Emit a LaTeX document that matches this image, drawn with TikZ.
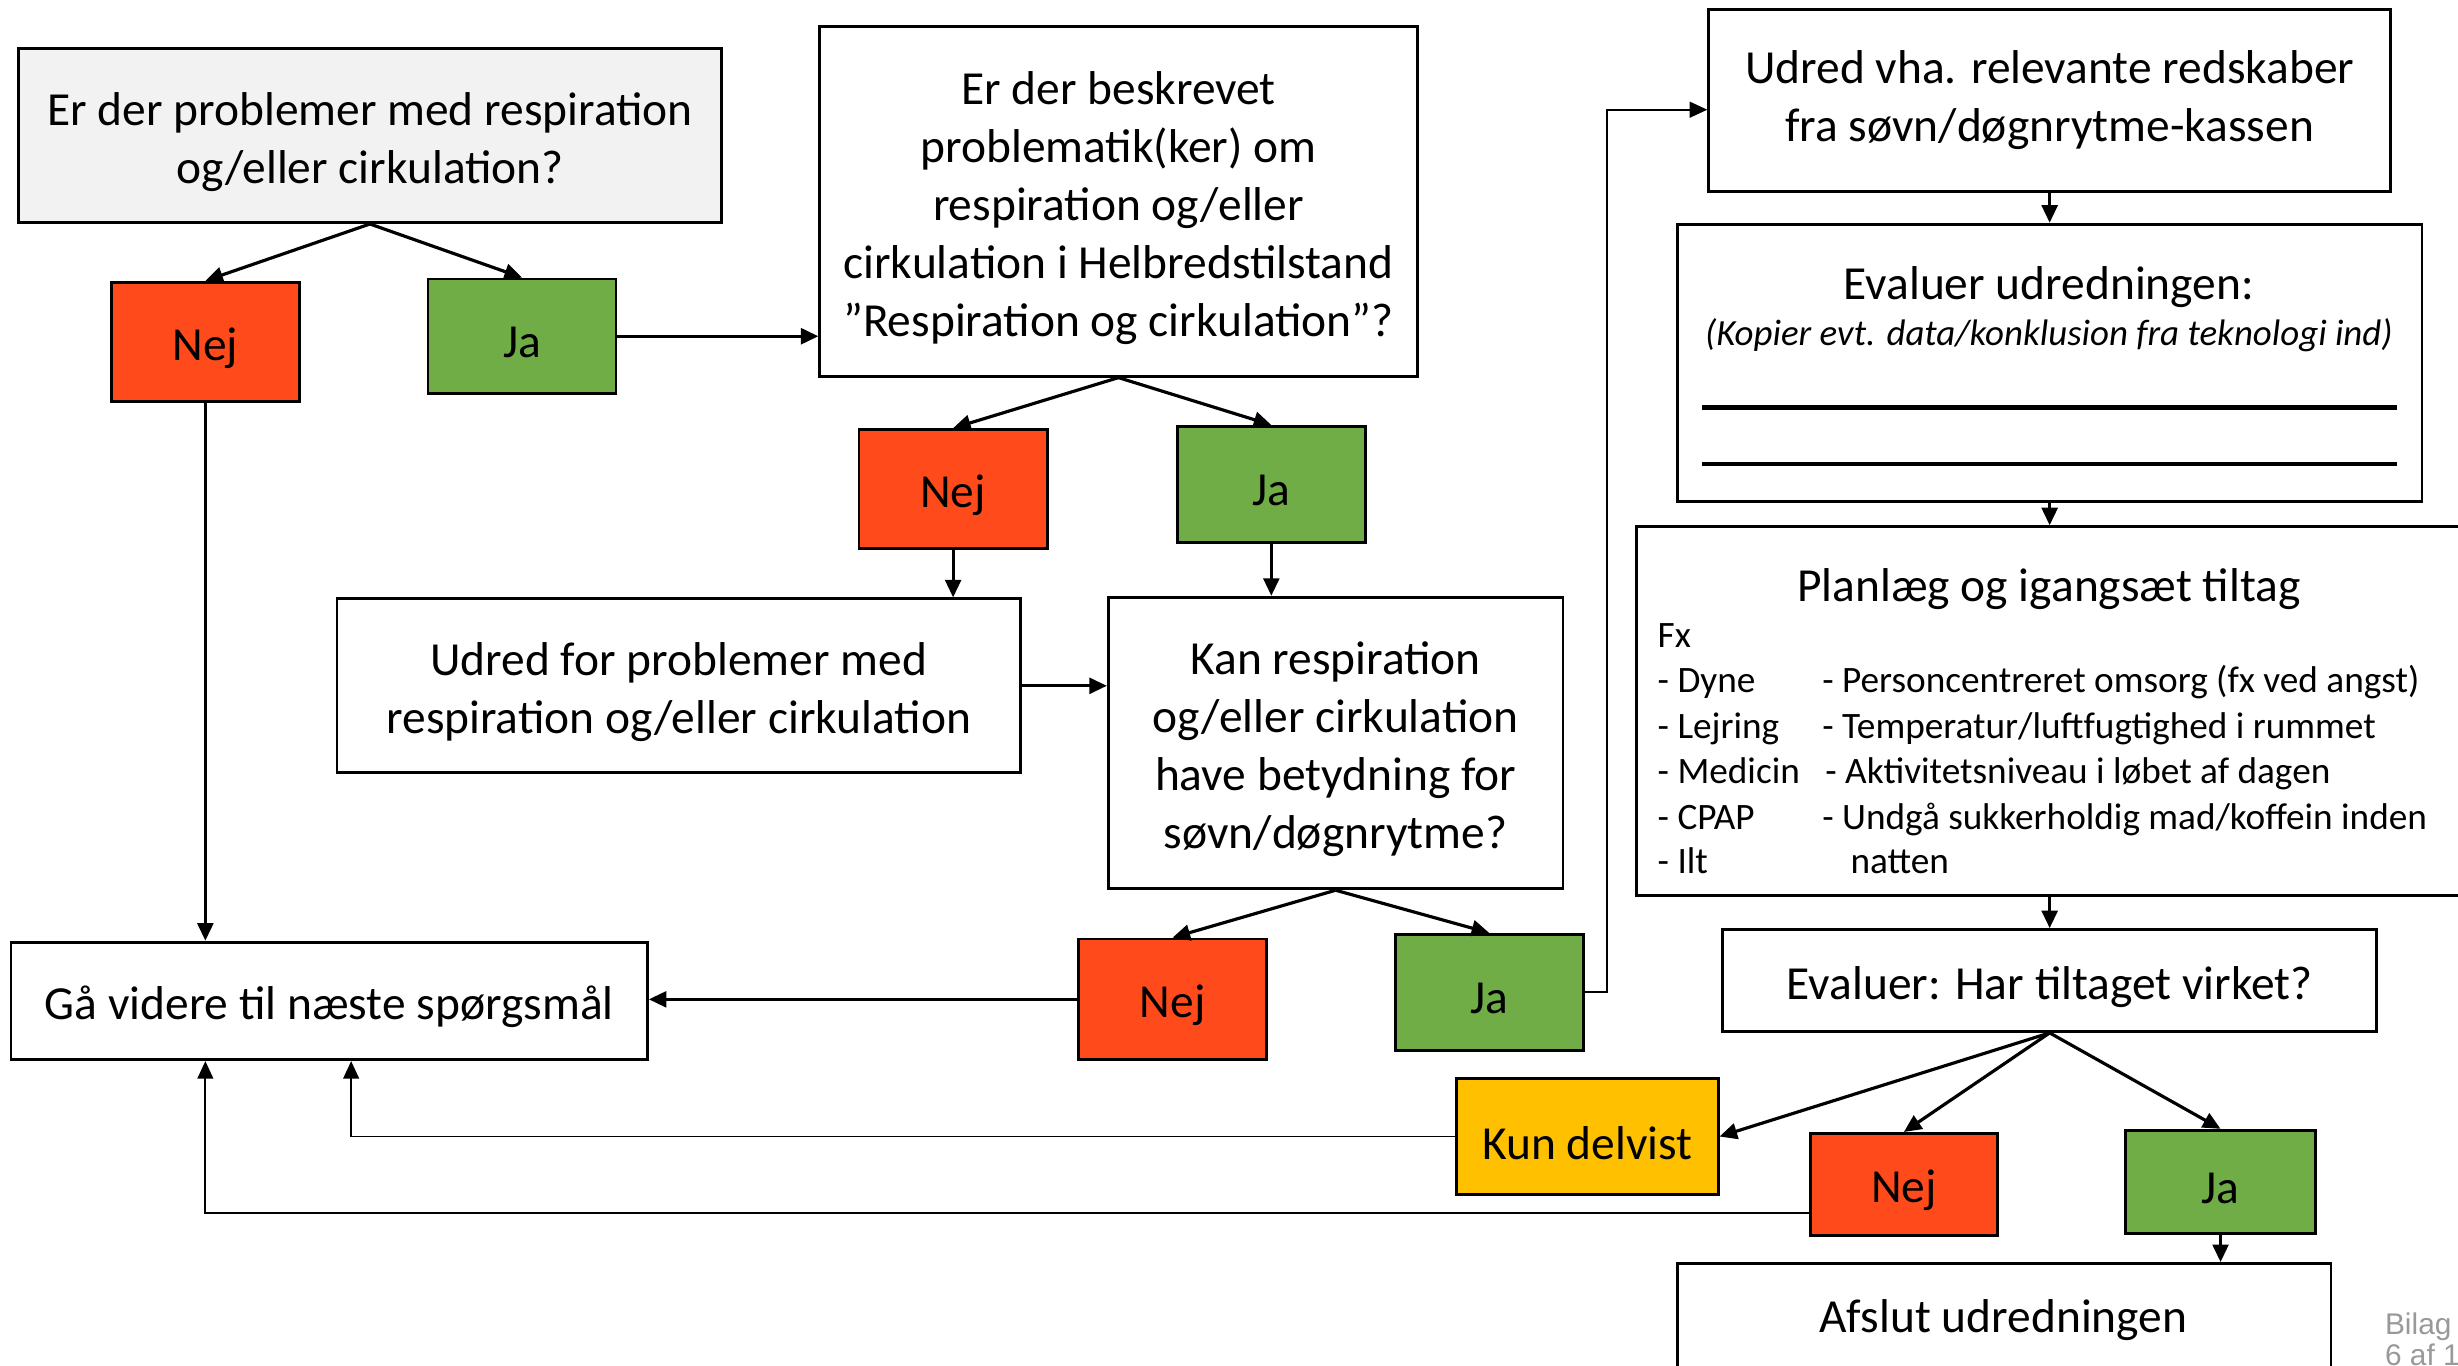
\documentclass[tikz,border=0pt]{standalone}
\usepackage{fontspec}
\setmainfont{Carlito}
\newfontfamily\bilagfont{Liberation Sans}
\usetikzlibrary{arrows.meta}
\definecolor{rd}{HTML}{FF4A1C}
\definecolor{gn}{HTML}{70AD47}
\definecolor{yl}{HTML}{FFC000}
\definecolor{gy}{HTML}{F2F2F2}
\begin{document}
\begin{tikzpicture}[x=0.15676mm, y=-0.15676mm,
  box/.style={draw=black, line width=0.8pt, inner sep=0pt},
  sz/.style 2 args={minimum width=#1*0.15676mm, minimum height=#2*0.15676mm},
  txt/.style={inner sep=0pt, align=center, font=\fontsize{13.5}{16.5}\selectfont},
  intxt/.style={txt, yshift=-1.8pt},
  small/.style={inner sep=0pt, anchor=base west, font=\fontsize{10.6}{12.9}\selectfont},
  arr/.style={-{Triangle[length=5pt,width=4.5pt]}, line width=0.9pt},
  thinarr/.style={-{Triangle[length=5pt,width=4.5pt]}, line width=0.5pt}]
\useasboundingbox (0,0) rectangle (1568,871);

% left part
\node[box, fill=gy, sz={448}{111}] (q1) at (236,86.5) {};
\node[intxt] (q1t) at (q1) {Er der problemer med respiration\\og/eller cirkulation?};
\node[box, fill=rd, sz={120}{76}] (n1) at (131,218) {};
\node[intxt] (n1t) at (n1) {Nej};
\node[box, fill=gn, sz={120}{73}] (j1) at (333,214.5) {};
\node[intxt] (j1t) at (j1) {Ja};
\node[box, sz={381}{223}] (q2) at (713.5,128.5) {};
\node[intxt] (q2t) at (q2) {Er der beskrevet\\problematik(ker) om\\respiration og/eller\\cirkulation i Helbredstilstand\\”Respiration og cirkulation”?};
\node[box, fill=rd, sz={120}{76}] (n2) at (608,312) {};
\node[intxt] (n2t) at (n2) {Nej};
\node[box, fill=gn, sz={120}{74}] (j2) at (811,309) {};
\node[intxt] (j2t) at (j2) {Ja};
\node[box, sz={436}{111}] (ud) at (433,437.5) {};
\node[intxt] (udt) at (ud) {Udred for problemer med\\respiration og/eller cirkulation};
\node[box, sz={290}{186}] (kan) at (852,474) {};
\node[intxt] (kant) at (kan) {Kan respiration\\og/eller cirkulation\\have betydning for\\søvn/døgnrytme?};
\node[box, fill=rd, sz={120}{77}] (n3) at (748,637.5) {};
\node[intxt] (n3t) at (n3) {Nej};
\node[box, fill=gn, sz={120}{74}] (j3) at (950,633) {};
\node[intxt] (j3t) at (j3) {Ja};
\node[box, sz={406}{75}] (ga) at (210,638.5) {};
\node[intxt] (gat) at (ga) {Gå videre til næste spørgsmål};

% right part
\node[box, sz={435}{116}] (uv) at (1307.5,64) {};
\node[txt] (uvt) at (uv) {Udred vha. relevante redskaber\\fra søvn/døgnrytme-kassen};
\node[box, sz={475}{177}] (eu) at (1307.5,231.5) {};
\node[txt] (eut) at (1307,183) {Evaluer udredningen:};
\node[txt, font=\fontsize{10.5}{12.8}\selectfont\itshape] (eui) at (1307,214) {(Kopier evt. data/konklusion fra teknologi ind)};
\coordinate (l1a) at (1086,260); \coordinate (l1b) at (1529,260);
\coordinate (l2a) at (1086,296); \coordinate (l2b) at (1529,296);
\draw[line width=1.3pt] (l1a) -- (l1b);
\draw[line width=1.3pt] (l2a) -- (l2b);

\node[box, sz={556}{235}] (pl) at (1322,453.5) {};
\node[txt] (plt) at (1307,376) {Planlæg og igangsæt tiltag};
\node[small] (fx) at (1057,413) {Fx};
\node[small] (a1) at (1057,442) {- Dyne};
\node[small] (a2) at (1057,471) {- Lejring};
\node[small] (a3) at (1057,500) {- Medicin};
\node[small] (a4) at (1057,529) {- CPAP};
\node[small] (a5) at (1057,557) {- Ilt};
\node[small] (b1) at (1162,442) {- Personcentreret omsorg (fx ved angst)};
\node[small] (b2) at (1162,471) {- Temperatur/luftfugtighed i rummet};
\node[small] (b3) at (1164,500) {- Aktivitetsniveau i løbet af dagen};
\node[small] (b4) at (1162,529) {- Undgå sukkerholdig mad/koffein inden};
\node[small] (b5) at (1180,557) {natten};

\node[box, sz={417}{65}] (ev) at (1307.5,625.5) {};
\node[intxt] (evt) at (ev) {Evaluer: Har tiltaget virket?};
\node[box, fill=yl, sz={167}{74}] (kd) at (1012.5,725) {};
\node[intxt] (kdt) at (kd) {Kun delvist};
\node[box, fill=rd, sz={119}{65}] (n4) at (1214.5,755.5) {};
\node[intxt] (n4t) at (n4) {Nej};
\node[box, fill=gn, sz={121}{66}] (j4) at (1416.5,754) {};
\node[intxt] (j4t) at (j4) {Ja};
\node[box, sz={417}{94}] (af) at (1278.5,853) {};
\node[txt] (aft) at (1278,842) {Afslut udredningen};

\node[inner sep=0pt, anchor=base west, text=black!40, font=\bilagfont\fontsize{8.5}{10}\selectfont] (bl1) at (1521,851) {Bilag 1};
\node[inner sep=0pt, anchor=base west, text=black!40, font=\bilagfont\fontsize{8.5}{10}\selectfont] (bl2) at (1521,871) {6 af 1};

% connectors
\draw[arr] (q1.south) -- (n1.north);
\draw[arr] (q1.south) -- (j1.north);
\draw[arr] (j1.east) -- (j1.east -| q2.west);
\draw[arr] (q2.south) -- (n2.north);
\draw[arr] (q2.south) -- (j2.north);
\draw[arr] (n2.south) -- (n2.south |- ud.north);
\draw[arr] (j2.south) -- (j2.south |- kan.north);
\draw[arr] (ud.east) -- (ud.east -| kan.west);
\draw[arr] (kan.south) -- (n3.north);
\draw[arr] (kan.south) -- (j3.north);
\draw[arr] (n3.west) -- (n3.west -| ga.east);
\draw[arr] (n1.south) -- (n1.south |- ga.north);
\coordinate (c1) at (1025,70);
\draw[thinarr] (j3.east) -| (c1) -- (c1 -| uv.west);
\draw[arr] (uv.south) -- (eu.north);
\draw[arr] (eu.south) -- (eu.south |- pl.north);
\draw[arr] (ev.north |- pl.south) -- (ev.north);
\draw[arr] (ev.south) -- (kd.east);
\draw[arr] (ev.south) -- (n4.north);
\draw[arr] (ev.south) -- (j4.north);
\draw[arr] (j4.south) -- (j4.south |- af.north);
\coordinate (c2) at (224,725);
\draw[thinarr] (kd.west) -- (c2) -- (c2 |- ga.south);
\coordinate (c3) at (131,774);
\draw[thinarr] (n4.west |- c3) -- (c3) -- (c3 |- ga.south);
\end{tikzpicture}
\end{document}
